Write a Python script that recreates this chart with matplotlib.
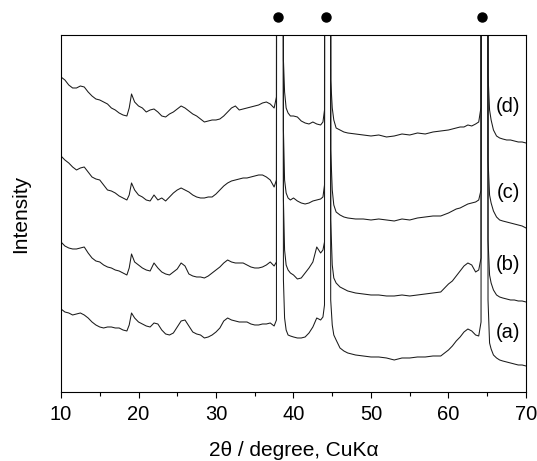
import numpy as np
import matplotlib.pyplot as plt

plt.rcParams["font.family"] = ["Liberation Sans", "DejaVu Sans"]

# 2theta grid (degree)
two_theta = [10, 10.5, 11, 11.5, 12, 12.5, 13, 13.5, 14, 14.5,
             15, 15.5, 16, 16.5, 17, 17.5, 18, 18.5, 18.8, 19.1,
             19.5, 20, 20.5, 21, 21.5, 22, 22.5, 23, 23.5, 24,
             24.5, 25, 25.5, 26, 26.5, 27, 27.5, 28, 28.5, 29,
             29.5, 30, 30.5, 31, 31.5, 32, 32.5, 33, 33.5, 34,
             34.5, 35, 35.5, 36, 36.5, 37, 37.5,
             37.8, 37.9, 38.25, 38.6, 38.7, 38.85, 39.05, 39.3, 39.6,
             40, 40.5, 41, 41.5, 42, 42.5, 43, 43.5, 43.8, 44.0,
             44.1, 44.45, 44.7, 44.8, 45.0, 45.2, 45.5,
             46, 46.5, 47, 48, 49, 50, 51, 52, 53, 54, 55, 56, 57, 58, 59,
             60, 60.5, 61, 61.5, 62, 62.5, 63, 63.5, 63.9, 64.2,
             64.3, 64.7, 65.0, 65.1, 65.3, 65.5, 65.8, 66.2, 66.6,
             67, 67.5, 68, 68.5, 69, 69.5, 70]

# intensities (stacked, arbitrary units)
int_d = [315, 312, 307, 304, 304, 306, 305, 300, 296, 293,
         292, 290, 288, 284, 282, 279, 277, 276, 284, 298,
         290, 286, 284, 280, 282, 283, 280, 276, 275, 278,
         280, 283, 286, 284, 281, 278, 276, 273, 270, 271,
         272, 272, 273, 276, 280, 284, 286, 282, 283, 284,
         285, 286, 287, 289, 290, 288, 284,
         295, 2500, 5000, 2500, 332, 300, 284, 279, 276,
         276, 275, 271, 269, 268, 270, 268, 267, 270, 282,
         2500, 5000, 2500, 312, 284, 272, 264,
         262, 260, 259, 258, 257, 256, 257, 255, 256, 258, 257, 259, 258, 260, 261,
         262, 263, 264, 265, 265, 267, 266, 268, 270, 285,
         2500, 5000, 2500, 317, 282, 272, 262, 256, 254,
         253, 252, 252, 251, 250, 250, 249]

int_c = [236, 232, 229, 225, 222, 224, 225, 220, 215, 213,
         212, 207, 202, 201, 199, 196, 194, 192, 197, 209,
         202, 197, 195, 192, 191, 197, 192, 194, 191, 195,
         199, 202, 204, 202, 200, 197, 195, 194, 194, 195,
         195, 198, 202, 206, 209, 211, 212, 213, 214, 214,
         215, 216, 217, 217, 215, 212, 205,
         212, 2500, 5000, 2500, 262, 212, 199, 194, 192,
         194, 191, 189, 188, 189, 191, 192, 193, 195, 207,
         2500, 5000, 2500, 242, 202, 187, 180,
         177, 175, 174, 173, 173, 172, 173, 172, 171, 173, 172, 174, 175, 176, 176,
         179, 181, 183, 184, 186, 188, 189, 190, 192, 202,
         2500, 5000, 2500, 232, 197, 189, 181, 175, 172,
         171, 170, 169, 168, 167, 166, 164]

int_b = [150, 146, 144, 143, 143, 144, 145, 139, 134, 131,
         130, 127, 125, 124, 122, 121, 119, 117, 124, 138,
         130, 127, 124, 122, 121, 129, 124, 120, 118, 117,
         120, 123, 129, 126, 118, 116, 115, 115, 114, 116,
         119, 122, 125, 129, 132, 130, 129, 129, 129, 127,
         125, 124, 124, 125, 127, 130, 126,
         130, 2500, 5000, 2500, 192, 142, 127, 122, 119,
         117, 113, 114, 119, 124, 130, 145, 139, 142, 150,
         2500, 5000, 2500, 172, 127, 114, 109,
         105, 103, 101, 99, 98, 97, 97, 96, 96, 97, 96, 97, 98, 99, 100,
         108, 111, 116, 121, 126, 129, 127, 120, 122, 134,
         2500, 5000, 2500, 152, 117, 109, 102, 97, 95,
         94, 93, 92, 92, 91, 91, 90]

int_a = [83, 80, 79, 77, 78, 79, 77, 74, 70, 67,
         65, 64, 65, 65, 64, 64, 62, 61, 67, 79,
         74, 70, 68, 66, 65, 69, 68, 62, 58, 57,
         59, 65, 71, 72, 66, 60, 58, 57, 54, 55,
         57, 60, 64, 71, 74, 72, 71, 70, 70, 70,
         68, 67, 67, 68, 68, 69, 66,
         72, 2500, 5000, 2500, 112, 74, 62, 57, 56,
         55, 54, 54, 55, 59, 65, 74, 72, 75, 87,
         2500, 5000, 2500, 92, 67, 57, 52,
         44, 41, 39, 37, 36, 35, 35, 34, 32, 34, 34, 35, 35, 36, 36,
         42, 46, 51, 55, 60, 63, 61, 57, 56, 70,
         2500, 5000, 2500, 92, 49, 43, 37, 34, 32,
         31, 30, 29, 28, 27, 27, 26]

curve_labels = ["(a)", "(b)", "(c)", "(d)"]
label_y = [59, 127, 199, 285]

# reflections marked with dots
dot_pos = [38.0, 44.15, 64.35]

fig = plt.figure(figsize=(5.37, 4.61), dpi=100)
ax = fig.add_axes([0.1136, 0.1497, 0.8659, 0.7744])

for y in [int_a, int_b, int_c, int_d]:
    ax.plot(two_theta, y, color="#1a1a1a", lw=0.75)

for lab, yy in zip(curve_labels, label_y):
    ax.text(67.7, yy, lab, fontsize=14.5, ha="center", va="center")

ax.plot(dot_pos, [375] * len(dot_pos), "o", color="black", ms=6.5, clip_on=False)

ax.set_xlim(10, 70)
ax.set_ylim(0, 357)
ax.set_xticks([10, 20, 30, 40, 50, 60, 70])
ax.set_xticks([15, 25, 35, 45, 55, 65], minor=True)
ax.set_yticks([])
ax.tick_params(axis="x", which="major", length=4.5, width=0.8, labelsize=14.5, pad=5)
ax.tick_params(axis="x", which="minor", length=3, width=0.8)
for s in ax.spines.values():
    s.set_linewidth(0.8)

ax.set_xlabel("2θ / degree, CuKα", fontsize=15, labelpad=12)
ax.set_ylabel("Intensity", fontsize=15, labelpad=22)

fig.savefig("out.png", dpi=100)
